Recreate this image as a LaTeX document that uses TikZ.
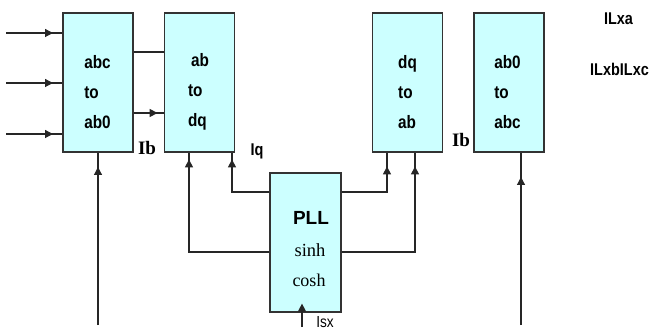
\documentclass[tikz,border=0pt]{standalone}
\usepackage{fontspec}
\setmainfont{Liberation Sans}
\newfontfamily\nsans[FakeStretch=0.85]{Liberation Sans}
\newfontfamily\tserif{Liberation Serif}
\usetikzlibrary{arrows.meta,decorations.markings}
\definecolor{boxfill}{HTML}{CCFFFF}
\definecolor{edge}{HTML}{333333}
\tikzset{
  blk/.style={draw=edge, fill=boxfill, line width=1.2pt, minimum width=70pt, minimum height=139pt, inner sep=0pt},
  wire/.style={line width=1.2pt, draw=black!85},
  tri/.tip={Triangle[width=8pt,length=8pt]},
  midarrow/.style={postaction={decorate}, decoration={markings, mark=at position #1 with {\arrow{tri}}}},
  boxtext/.style={font=\nsans\bfseries\fontsize{18}{30}\selectfont, align=left, inner sep=0pt},
  sanslbl/.style={font=\nsans\bfseries\fontsize{17}{17}\selectfont, inner sep=0pt},
  seriflbl/.style={font=\tserif\bfseries\fontsize{19}{19}\selectfont, inner sep=0pt},
}
\begin{document}
\begin{tikzpicture}[x=1pt, y=-1pt]
\useasboundingbox (0,0) rectangle (650,331);
% blocks
\node[blk] (b1) at (98,82.5) {};
\node[blk] (b2) at (199.5,82.5) {};
\node[blk] (b3) at (407.5,82.5) {};
\node[blk] (b4) at (509,82.5) {};
\node[blk, minimum width=71pt] (pll) at (305.5,242.5) {};
% block texts
\node[boxtext] (t1) at (97.5,92) {abc\\to\\ab0};
\node[boxtext] (t2) at (198.5,92) {\hspace*{3pt}ab\\to\\dq};
\node[boxtext] (t3) at (407.5,92) {dq\\to\\ab};
\node[boxtext] (t4) at (507.5,92) {ab0\\to\\abc};
\node[font=\bfseries\fontsize{19}{19}\selectfont, inner sep=0pt] (tpll) at (311,218) {PLL};
\node[font=\tserif\fontsize{18.5}{18.5}\selectfont, inner sep=0pt] (tsinh) at (310,250) {sinh};
\node[font=\tserif\fontsize{18}{18}\selectfont, inner sep=0pt] (tcosh) at (309,280) {cosh};
% inputs
\coordinate (i1) at (6,33);
\coordinate (i2) at (6,83);
\coordinate (i3) at (6,134);
\draw[wire, midarrow=47pt] (i1) -- (i1 -| b1.west);
\draw[wire, midarrow=47pt] (i2) -- (i2 -| b1.west);
\draw[wire, midarrow=47pt] (i3) -- (i3 -| b1.west);
% b1 -> b2
\draw[wire] (b1.east |- 0,52) -- (b2.west |- 0,52);
\draw[wire, midarrow=24pt] (b1.east |- 0,113) -- (b2.west |- 0,113);
% bottom feeds
\coordinate (g1) at (98,325);
\coordinate (g4) at (521,325);
\draw[wire, midarrow=158pt] (g1) -- (g1 |- b1.south);
\draw[wire, midarrow=148pt] (g4) -- (g4 |- b4.south);
% PLL outputs
\draw[wire, midarrow=70pt] (pll.west |- 0,192) -| (232,0 |- b2.south);
\draw[wire, midarrow=173pt] (pll.west |- 0,252) -| (189,0 |- b2.south);
\draw[wire, midarrow=71pt] (pll.east |- 0,192) -| (387,0 |- b3.south);
\draw[wire, midarrow=159pt] (pll.east |- 0,252) -| (415,0 |- b3.south);
% PLL input
\coordinate (isx) at (302,327);
\draw[wire, -{tri}, shorten >=-9pt] (isx) -- (isx |- pll.south);
% labels
\node[seriflbl] (lib1) at (147,148) {Ib};
\node[sanslbl] (liq) at (257,151) {Iq};
\node[seriflbl] (lib2) at (461,140) {Ib};
\node[font=\nsans\fontsize{16}{16}\selectfont, inner sep=0pt] (lisx) at (325,322) {Isx};
\node[sanslbl] (lxa) at (618.5,18.5) {ILxa};
\node[sanslbl] (lxbc) at (619.5,69.5) {ILxbILxc};
\end{tikzpicture}
\end{document}
